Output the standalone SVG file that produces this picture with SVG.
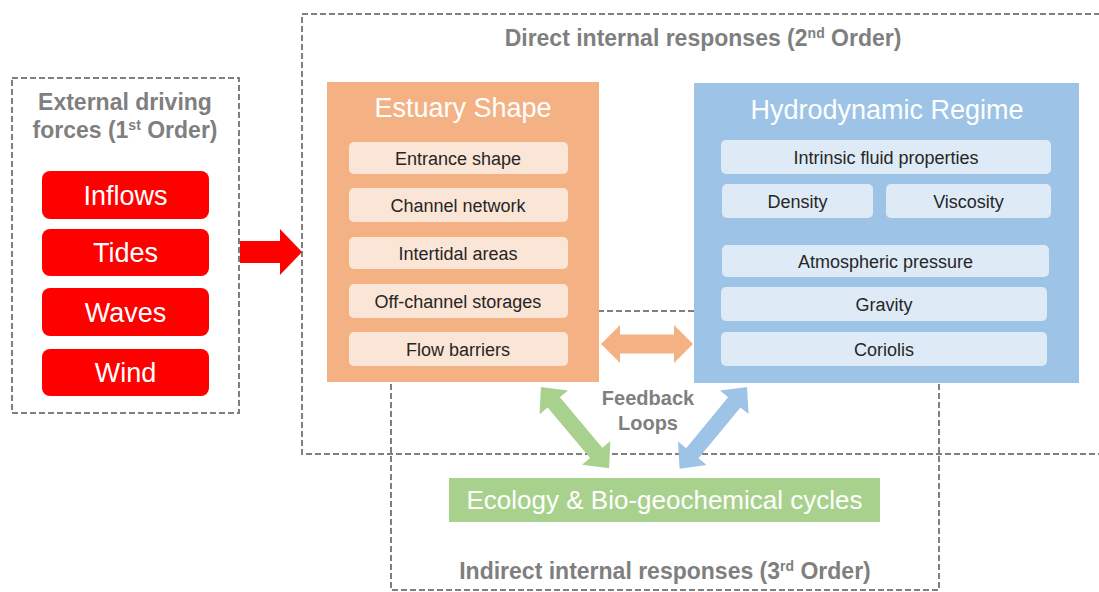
<svg xmlns="http://www.w3.org/2000/svg" width="1099" height="592" viewBox="0 0 1099 592">
<style>
.dash{fill:none;stroke:#7f7f7f;stroke-width:2;stroke-dasharray:6 3}
.ttl{font-family:"Liberation Sans",Arial,sans-serif;font-weight:bold;font-size:23px;fill:#7f7f7f;text-anchor:middle}
.fb{font-family:"Liberation Sans",Arial,sans-serif;font-weight:bold;font-size:20px;fill:#7f7f7f;text-anchor:middle}
.red{fill:#ff0000}
.redt{font-family:"Liberation Sans",Arial,sans-serif;font-size:27px;fill:#ffffff;text-anchor:middle}
.big{font-family:"Liberation Sans",Arial,sans-serif;font-size:27px;fill:#ffffff;text-anchor:middle}
.eco{font-family:"Liberation Sans",Arial,sans-serif;font-size:26px;fill:#ffffff;text-anchor:middle}
.sub{font-family:"Liberation Sans",Arial,sans-serif;font-size:18px;fill:#262626;text-anchor:middle}
.os{fill:#fbe5d6}
.bs{fill:#deebf7}
</style>
<rect x="0" y="0" width="1099" height="592" fill="#ffffff"/>

<g id="containers">
<rect class="dash" x="12" y="78" width="227" height="335"/>
<rect class="dash" x="302" y="14" width="820" height="440"/>
<rect class="dash" x="391" y="311" width="548" height="279"/>
<text class="ttl" x="125" y="110">External driving</text>
<text class="ttl" x="125" y="138">forces (1<tspan font-size="14" dy="-8">st</tspan><tspan dy="8"> Order)</tspan></text>
<text class="ttl" x="703" y="46">Direct internal responses (2<tspan font-size="14" dy="-8">nd</tspan><tspan dy="8"> Order)</tspan></text>
<text class="ttl" x="665" y="579">Indirect internal responses (3<tspan font-size="14" dy="-8">rd</tspan><tspan dy="8"> Order)</tspan></text>
</g>

<g id="external-forces">
<rect class="red" x="42" y="171" width="167" height="48" rx="8"/>
<text class="redt" x="125.5" y="205">Inflows</text>
<rect class="red" x="42" y="229" width="167" height="47" rx="8"/>
<text class="redt" x="125.5" y="262">Tides</text>
<rect class="red" x="42" y="288" width="167" height="48" rx="8"/>
<text class="redt" x="125.5" y="322">Waves</text>
<rect class="red" x="42" y="349" width="167" height="47" rx="8"/>
<text class="redt" x="125.5" y="382">Wind</text>
</g>

<g id="estuary-shape">
<rect x="327" y="82" width="272" height="300" fill="#f4b183"/>
<text class="big" x="463" y="117">Estuary Shape</text>
<rect class="os" x="349" y="142" width="219" height="32" rx="5"/>
<text class="sub" x="458" y="164.5">Entrance shape</text>
<rect class="os" x="349" y="188" width="219" height="34" rx="5"/>
<text class="sub" x="458" y="211.5">Channel network</text>
<rect class="os" x="349" y="237" width="219" height="32" rx="5"/>
<text class="sub" x="458" y="259.5">Intertidal areas</text>
<rect class="os" x="349" y="284" width="219" height="34" rx="5"/>
<text class="sub" x="458" y="307.5">Off-channel storages</text>
<rect class="os" x="349" y="332" width="219" height="34" rx="5"/>
<text class="sub" x="458" y="355.5">Flow barriers</text>
</g>

<g id="hydrodynamic-regime">
<rect x="694" y="83" width="385" height="300" fill="#9dc3e6"/>
<text class="big" x="887" y="119">Hydrodynamic Regime</text>
<rect class="bs" x="721" y="140" width="330" height="34" rx="5"/>
<text class="sub" x="886" y="163.5">Intrinsic fluid properties</text>
<rect class="bs" x="722" y="184" width="151" height="34" rx="5"/>
<text class="sub" x="797.5" y="207.5">Density</text>
<rect class="bs" x="886" y="184" width="165" height="34" rx="5"/>
<text class="sub" x="968.5" y="207.5">Viscosity</text>
<rect class="bs" x="722" y="245" width="327" height="32" rx="5"/>
<text class="sub" x="885.5" y="267.5">Atmospheric pressure</text>
<rect class="bs" x="721" y="287" width="326" height="34" rx="5"/>
<text class="sub" x="884" y="310.5">Gravity</text>
<rect class="bs" x="721" y="332" width="326" height="34" rx="5"/>
<text class="sub" x="884" y="355.5">Coriolis</text>
</g>

<g id="ecology">
<rect x="449" y="478" width="431" height="44" fill="#a9d18e"/>
<text class="eco" x="664.5" y="509">Ecology &amp; Bio-geochemical cycles</text>
</g>

<g id="connectors">
<polygon class="red" points="240,241 280,241 280,229 302,252 280,275 280,263 240,263"/>
<path fill="#f4b183" transform="translate(647,344)" d="M -46 0 L -27 -19 L -27 -9.5 L 27 -9.5 L 27 -19 L 46 0 L 27 19 L 27 9.5 L -27 9.5 L -27 19 Z"/>
<path fill="#a9d18e" transform="translate(575,427.7) rotate(50)" d="M -53 0 L -33 -18.5 L -33 -8 L 33 -8 L 33 -18.5 L 53 0 L 33 18.5 L 33 8 L -33 8 L -33 18.5 Z"/>
<path fill="#9dc3e6" transform="translate(713.3,427.8) rotate(129.5)" d="M -53 0 L -33 -18.5 L -33 -8 L 33 -8 L 33 -18.5 L 53 0 L 33 18.5 L 33 8 L -33 8 L -33 18.5 Z"/>
</g>

<g id="feedback-label">
<text class="fb" x="648" y="405">Feedback</text>
<text class="fb" x="648" y="430">Loops</text>
</g>
</svg>
